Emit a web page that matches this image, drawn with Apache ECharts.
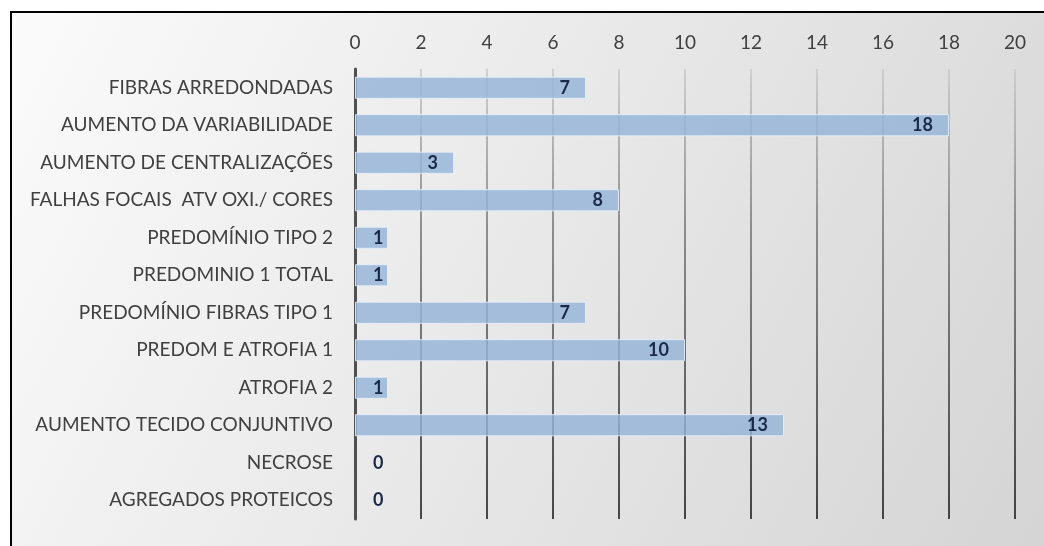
<!DOCTYPE html>
<html><head><meta charset="utf-8">
<script src="https://cdn.jsdelivr.net/npm/echarts@6/dist/echarts.min.js"></script>
<style>html,body{margin:0;padding:0;background:#fff}#c{width:1044px;height:546px}</style>
</head><body><div id="c"></div>
<script>
const categories = [
  "FIBRAS ARREDONDADAS",
  "AUMENTO DA VARIABILIDADE",
  "AUMENTO DE CENTRALIZAÇÕES",
  "FALHAS FOCAIS  ATV OXI./ CORES",
  "PREDOMÍNIO TIPO 2",
  "PREDOMINIO 1 TOTAL",
  "PREDOMÍNIO FIBRAS TIPO 1",
  "PREDOM E ATROFIA 1",
  "ATROFIA 2",
  "AUMENTO TECIDO CONJUNTIVO",
  "NECROSE",
  "AGREGADOS PROTEICOS"
];
const values = [7, 18, 3, 8, 1, 1, 7, 10, 1, 13, 0, 0];
const xTicks = [0, 2, 4, 6, 8, 10, 12, 14, 16, 18, 20];

const chart = echarts.init(document.getElementById('c'));
const seriesData = values.map(v => {
  if (v === 0) return { value: v, itemStyle: { borderWidth: 0 }, label: { position: 'right', distance: 18 } };
  if (v <= 1) return { value: v, label: { position: 'insideLeft', distance: 18 } };
  return { value: v };
});

chart.setOption({
  animation: false,
  textStyle: { fontFamily: 'Lato' },
  graphic: [{
    type: 'rect', left: 10, top: 11, z: -10,
    shape: { width: 1040, height: 540 },
    style: {
      fill: new echarts.graphic.LinearGradient(0, 0, 1, 1, [
        { offset: 0, color: '#fbfbfb' },
        { offset: 1, color: '#d4d4d4' }
      ]),
      stroke: '#000', lineWidth: 2
    }
  }],
  grid: { left: 355, right: 29, top: 69, bottom: 27, containLabel: false },
  xAxis: {
    type: 'value', position: 'top', min: xTicks[0], max: xTicks[xTicks.length - 1], interval: 2,
    axisLine: { show: false }, axisTick: { show: false },
    axisLabel: { color: '#404040', fontSize: 19, margin: 17, fontFamily: 'Lato' },
    splitLine: { show: true, lineStyle: {
      width: 1.5,
      color: new echarts.graphic.LinearGradient(0, 69, 0, 519, [
        { offset: 0, color: '#c8c8c8' },
        { offset: 0.35, color: '#707070' },
        { offset: 1, color: '#111' }
      ], true)
    } }
  },
  yAxis: {
    type: 'category', data: categories, inverse: true,
    axisLine: { show: true, lineStyle: { color: '#505050', width: 3 } },
    axisTick: { show: false },
    axisLabel: { color: '#404040', fontSize: 19, margin: 22, fontFamily: 'Lato' }
  },
  series: [{
    type: 'bar', data: seriesData, barCategoryGap: '41%',
    itemStyle: { color: 'rgba(148,179,216,0.82)', borderColor: 'rgba(230,238,248,0.9)', borderWidth: 1 },
    label: { show: true, position: 'insideRight', distance: 16, color: '#1b2a48', fontWeight: 'bold', fontSize: 18, fontFamily: 'Lato' }
  }]
});
</script></body></html>
